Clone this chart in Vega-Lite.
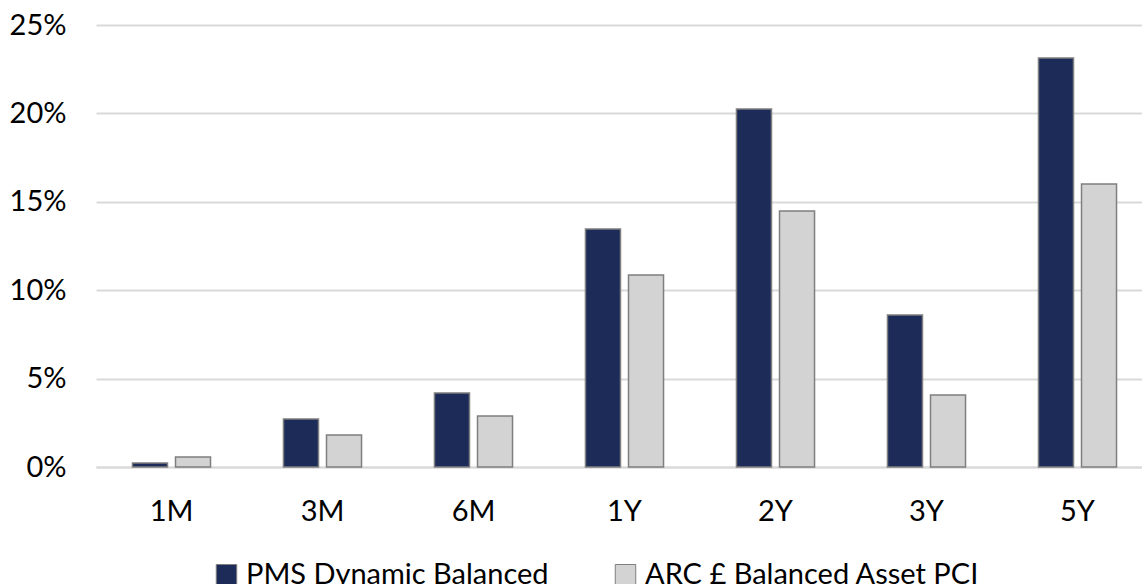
{
  "$schema": "https://vega.github.io/schema/vega-lite/v6.json",
  "width": 1057,
  "height": 442,
  "autosize": {"type": "none"},
  "padding": {"left": 96, "top": 25, "right": -11, "bottom": 117},
  "background": "white",
  "config": {
    "view": {"stroke": null},
    "font": "Lato",
    "axis": {"labelFont": "Lato", "labelFontSize": 29, "labelColor": "#000000"},
    "legend": {"labelFont": "Lato", "labelFontSize": 29, "labelColor": "#000000", "labelLimit": 0}
  },
  "data": {
    "values": [
      {"period": "1M", "series": "PMS Dynamic Balanced", "value": 0.0023},
      {"period": "1M", "series": "ARC £ Balanced Asset PCI", "value": 0.0057},
      {"period": "3M", "series": "PMS Dynamic Balanced", "value": 0.0271},
      {"period": "3M", "series": "ARC £ Balanced Asset PCI", "value": 0.0181},
      {"period": "6M", "series": "PMS Dynamic Balanced", "value": 0.0419},
      {"period": "6M", "series": "ARC £ Balanced Asset PCI", "value": 0.0288},
      {"period": "1Y", "series": "PMS Dynamic Balanced", "value": 0.1346},
      {"period": "1Y", "series": "ARC £ Balanced Asset PCI", "value": 0.1086},
      {"period": "2Y", "series": "PMS Dynamic Balanced", "value": 0.2025},
      {"period": "2Y", "series": "ARC £ Balanced Asset PCI", "value": 0.1448},
      {"period": "3Y", "series": "PMS Dynamic Balanced", "value": 0.086},
      {"period": "3Y", "series": "ARC £ Balanced Asset PCI", "value": 0.0407},
      {"period": "5Y", "series": "PMS Dynamic Balanced", "value": 0.2313},
      {"period": "5Y", "series": "ARC £ Balanced Asset PCI", "value": 0.16}
    ]
  },
  "mark": {"type": "bar", "stroke": "#7F7F7F", "strokeWidth": 1.5},
  "encoding": {
    "x": {
      "field": "period",
      "type": "nominal",
      "sort": ["1M", "3M", "6M", "1Y", "2Y", "3Y", "5Y"],
      "scale": {"paddingInner": 0.483, "paddingOuter": 0.2415},
      "axis": {
        "title": null,
        "labelAngle": 0,
        "ticks": false,
        "domain": true,
        "domainColor": "#D9D9D9",
        "domainWidth": 2,
        "labelPadding": 30
      }
    },
    "xOffset": {
      "field": "series",
      "type": "nominal",
      "sort": ["PMS Dynamic Balanced", "ARC £ Balanced Asset PCI"],
      "scale": {"paddingInner": 0.186, "paddingOuter": 0}
    },
    "y": {
      "field": "value",
      "type": "quantitative",
      "scale": {"domain": [0, 0.25], "nice": false},
      "axis": {
        "title": null,
        "format": ".0%",
        "values": [0, 0.05, 0.1, 0.15, 0.2, 0.25],
        "ticks": false,
        "domain": false,
        "gridColor": "#D9D9D9",
        "gridWidth": 2,
        "labelPadding": 30
      }
    },
    "color": {
      "field": "series",
      "type": "nominal",
      "sort": ["PMS Dynamic Balanced", "ARC £ Balanced Asset PCI"],
      "scale": {
        "domain": ["PMS Dynamic Balanced", "ARC £ Balanced Asset PCI"],
        "range": ["#1C2B58", "#D2D3D2"]
      },
      "legend": {
        "title": null,
        "orient": "none",
        "direction": "horizontal",
        "legendX": 116,
        "legendY": 535,
        "symbolType": "square",
        "symbolSize": 420,
        "symbolStrokeColor": "#7F7F7F",
        "symbolStrokeWidth": 1,
        "labelOffset": 5,
        "columnPadding": 62
      }
    }
  }
}
